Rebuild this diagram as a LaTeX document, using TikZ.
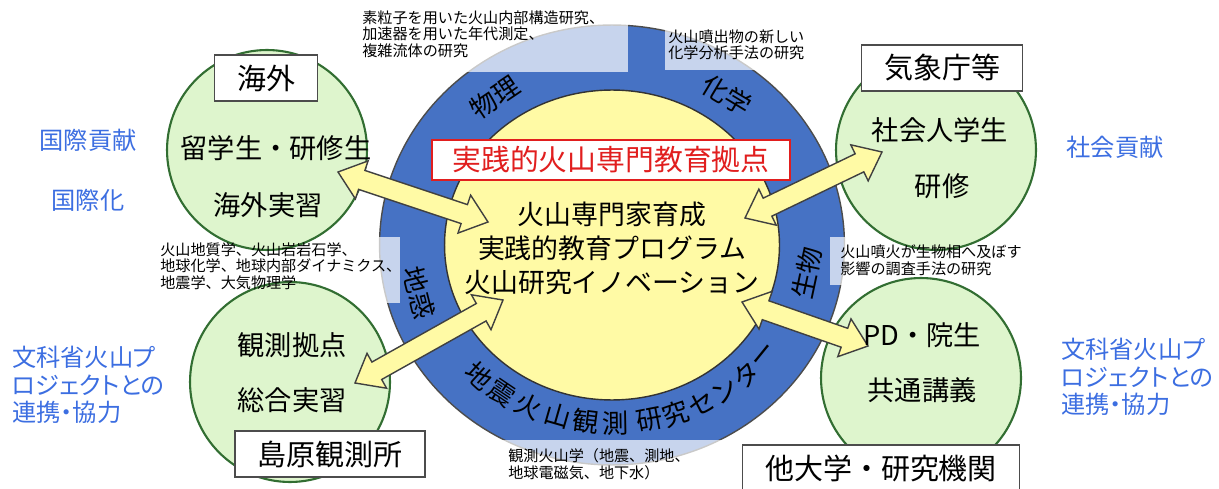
\documentclass[tikz,border=0pt]{standalone}
\usepackage{fontspec}
\setmainfont{Noto Sans CJK JP}
\newfontfamily\propfont{Noto Sans CJK JP}[RawFeature=+palt]
\usetikzlibrary{shapes.geometric,calc}
\definecolor{ringblue}{RGB}{70,114,196}
\definecolor{coreyellow}{RGB}{255,250,165}
\definecolor{leafgreen}{RGB}{222,245,205}
\definecolor{leafedge}{RGB}{50,110,50}
\definecolor{sideblue}{RGB}{60,110,225}
\definecolor{hotred}{RGB}{225,30,30}
\tikzset{
  leaf/.style={circle,draw=leafedge,line width=1.2pt,fill=leafgreen,minimum size=4cm},
  tag/.style={draw=black!70,fill=white,line width=0.8pt,inner xsep=0.45cm,minimum height=0.92cm,font=\fontsize{16.5}{19}\selectfont},
  leaftxt/.style={font=\fontsize{15.5}{18}\selectfont},
  sidetxt/.style={text=sideblue,font=\propfont\fontsize{13.8}{15.8}\selectfont,align=left},
  note/.style={font=\fontsize{8.6}{9.6}\selectfont,align=left,anchor=north west,inner sep=0},
  ringtxt/.style={font=\fontsize{15}{17}\selectfont,inner sep=0},
  haze/.style={fill=white,fill opacity=0.7},
  dblarrow/.style={draw=black!75,fill=coreyellow,line width=0.8pt,line join=miter}
}
\begin{document}
\begin{tikzpicture}[x=0.02cm,y=-0.02cm]
  \useasboundingbox (0,0) rectangle (1219,489);
  \node[leaf] (abroad) at (267,150) {};
  \node[leaf] (base) at (290,382) {};
  \node[leaf] (adult) at (936,150) {};
  \node[leaf] (grad) at (921,378) {};
  \node[ellipse,fill=ringblue,draw=black!70,line width=0.8pt,minimum width=9.3cm,minimum height=8.8cm] (ring) at (612,245) {};
  \fill[haze] (355,4) rectangle (628,72);
  \fill[haze] (665,22) rectangle (840,70);
  \fill[haze] (376,237) rectangle (400,303);
  \fill[haze] (830,237) rectangle (850,285);
  \fill[haze] (495,440) rectangle (725,489);
  \node[ellipse,fill=coreyellow,draw=black!80,line width=0.8pt,minimum width=6.7cm,minimum height=6.2cm] (core) at (612,245) {};

  \node[ringtxt,rotate=34] (phys) at (495,97) {物理};
  \node[ringtxt,rotate=-31] (chem) at (727,95) {化学};
  \node[ringtxt,rotate=-76] (earth) at (419,293) {地惑};
  \node[ringtxt,rotate=78] (bio) at (807,273) {生物};
  \foreach \ch/\t in {地/132.5,震/124,火/115,山/106,観/97.5,測/89,研/79,究/71,セ/63,ン/55,タ/47,ー/39}
    \node[ringtxt,rotate=90-\t] at ({612+197*cos(\t)},{245+178*sin(\t)}) {\ch};

  \coordinate (abroadTip) at (338,172); \coordinate (abroadIn) at (488,222);
  \coordinate (adultTip) at (882,152); \coordinate (adultIn) at (745,218);
  \coordinate (baseTip) at (355,383); \coordinate (baseIn) at (503,300);
  \coordinate (gradTip) at (868,346); \coordinate (gradIn) at (742,302);
  \foreach \a/\b in {abroadTip/abroadIn,adultIn/adultTip,baseTip/baseIn,gradIn/gradTip}
    \draw[dblarrow] (\a) -- ($(\a)!0.5cm!(\b)!0.4cm!90:(\b)$) -- ($(\a)!0.5cm!(\b)!0.2cm!90:(\b)$)
      -- ($(\b)!0.5cm!(\a)!0.2cm!-90:(\a)$) -- ($(\b)!0.5cm!(\a)!0.4cm!-90:(\a)$) -- (\b)
      -- ($(\b)!0.5cm!(\a)!0.4cm!90:(\a)$) -- ($(\b)!0.5cm!(\a)!0.2cm!90:(\a)$)
      -- ($(\a)!0.5cm!(\b)!0.2cm!-90:(\b)$) -- ($(\a)!0.5cm!(\b)!0.4cm!-90:(\b)$) -- cycle;

  \node[draw=hotred,line width=1pt,fill=white,text=hotred,font=\fontsize{16.4}{19}\selectfont,
    minimum width=7.16cm,minimum height=0.8cm] (hub) at (611,160) {実践的火山専門教育拠点};
  \node[font=\fontsize{15.3}{19.4}\selectfont,align=center] (prog) at (612,248)
    {火山専門家育成\\実践的教育プログラム\\火山研究イノベーション};

  \node[leaftxt] (abroad1) at (276,148) {留学生・研修生};
  \node[leaftxt] (abroad2) at (268,205) {海外実習};
  \node[leaftxt] (base1) at (292,345) {観測拠点};
  \node[leaftxt] (base2) at (292,400) {総合実習};
  \node[leaftxt] (adult1) at (940,130) {社会人学生};
  \node[leaftxt] (adult2) at (942,186) {研修};
  \node[leaftxt] (grad1) at (922,335) {PD・院生};
  \node[leaftxt] (grad2) at (922,390) {共通講義};

  \node[tag] (tagA) at (266,78) {海外};
  \node[tag] (tagC) at (942,68) {気象庁等};
  \node[tag] (tagB) at (330,454) {島原観測所};
  \node[tag] (tagD) at (881,468) {他大学・研究機関};

  \node[sidetxt] (intl1) at (88,140) {国際貢献};
  \node[sidetxt] (intl2) at (88,200) {国際化};
  \node[sidetxt] (social) at (1115,147) {社会貢献};
  \node[sidetxt,anchor=west] (mextL) at (6,385) {文科省火山プ\\ロジェクトとの\\連携・協力};
  \node[sidetxt,anchor=west] (mextR) at (1055,377) {文科省火山プ\\ロジェクトとの\\連携・協力};

  \node[note] (noteP) at (362,10) {素粒子を用いた火山内部構造研究、\\加速器を用いた年代測定、\\複雑流体の研究};
  \node[note] (noteC) at (668,29) {火山噴出物の新しい\\化学分析手法の研究};
  \node[note] (noteE) at (160,242) {火山地質学、火山岩岩石学、\\地球化学、地球内部ダイナミクス、\\地震学、大気物理学};
  \node[note] (noteB) at (840,244) {火山噴火が生物相へ及ぼす\\影響の調査手法の研究};
  \node[note] (noteS) at (508,448) {観測火山学（地震、測地、\\地球電磁気、地下水）};
\end{tikzpicture}
\end{document}
